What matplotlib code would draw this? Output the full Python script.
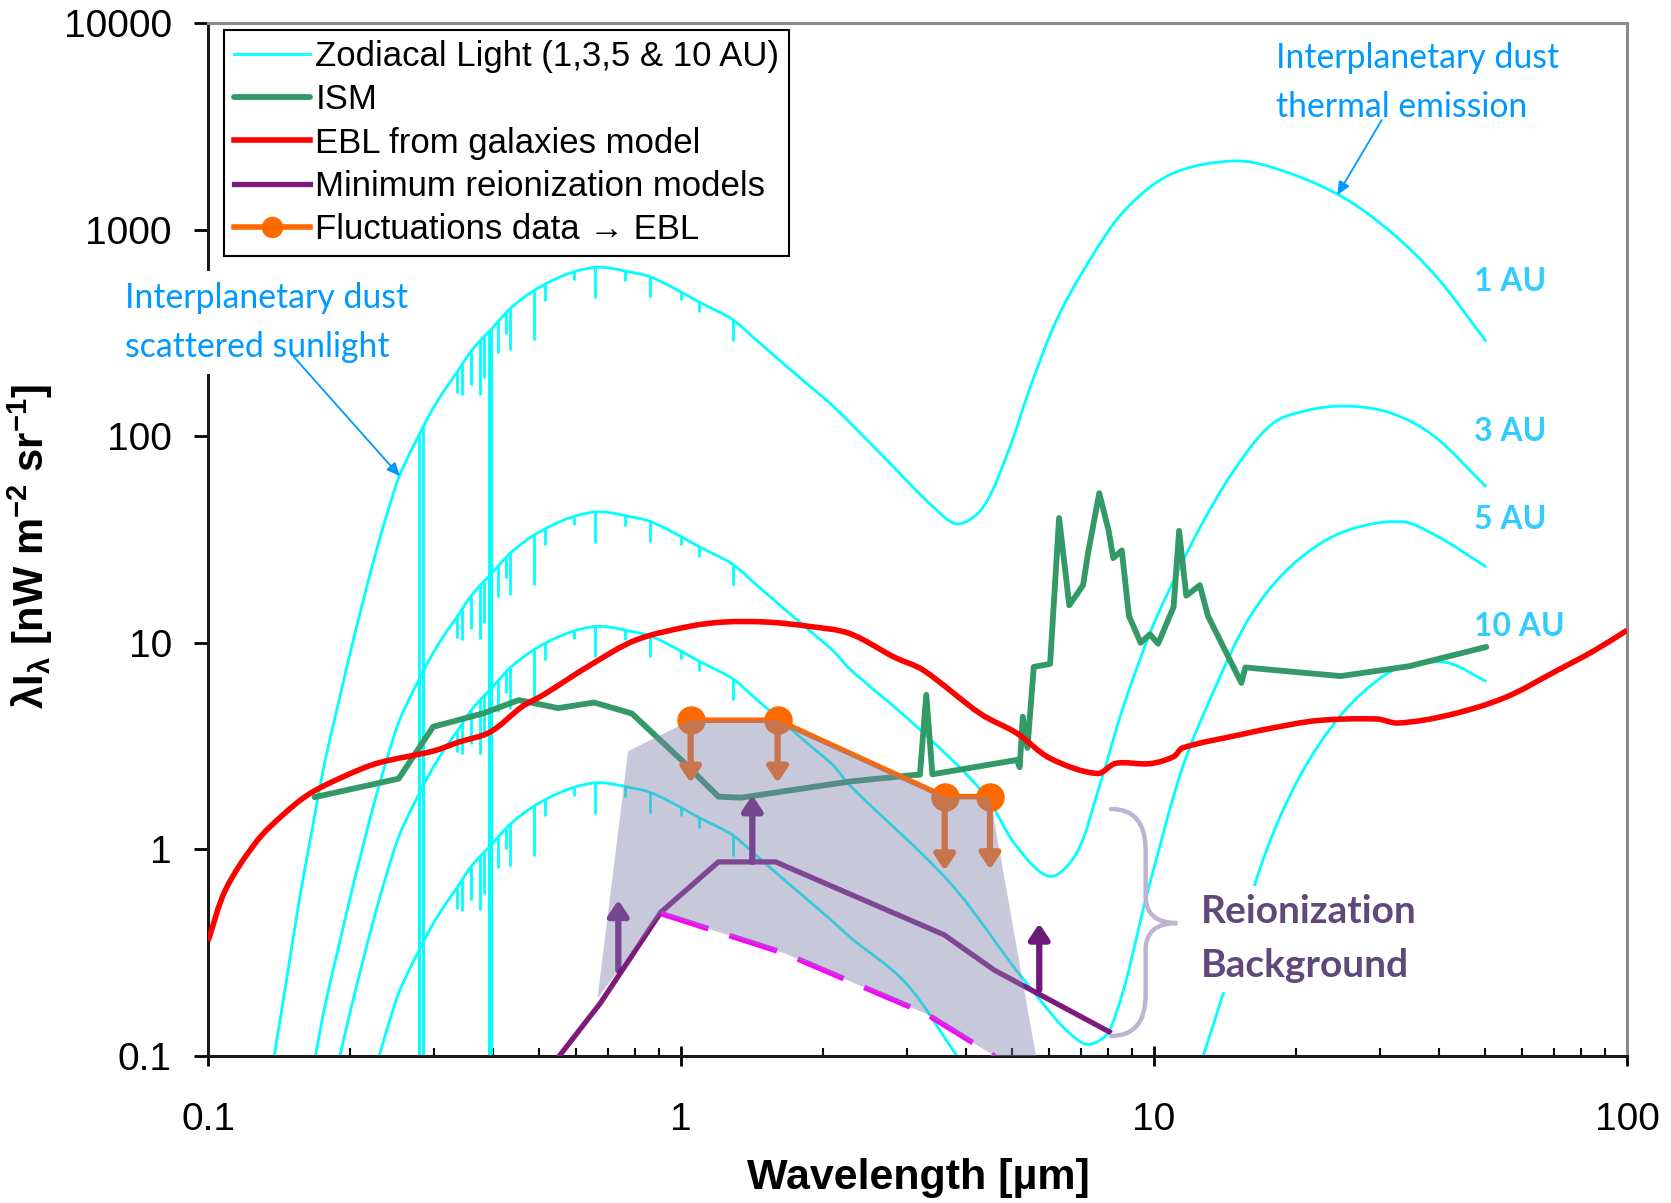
import numpy as np
import matplotlib
matplotlib.use("Agg")
import matplotlib.pyplot as plt
from matplotlib.path import Path
from matplotlib.patches import PathPatch, Polygon
from matplotlib.ticker import (FixedLocator, FixedFormatter, LogLocator,
                               NullLocator, NullFormatter)

plt.rcParams['font.family'] = ['Liberation Sans', 'DejaVu Sans']
plt.rcParams['mathtext.fontset'] = 'custom'
for k in ('rm', 'it', 'bf', 'sf'):
    plt.rcParams['mathtext.' + k] = 'Liberation Sans:bold'

# ---------------- data: wavelength [um], lambda*I_lambda [nW m^-2 sr^-1] ----
# scattered sunlight shape of the zodiacal light, relative to its peak
# sun_dip = depth of absorption line in dex
sun_wl = [0.138, 0.147, 0.156, 0.166, 0.177, 0.188, 0.199, 0.212, 0.226, 0.239,
          0.253, 0.268, 0.2796, 0.2853, 0.30, 0.32, 0.336, 0.345, 0.359, 0.376,
          0.383, 0.3934, 0.3968, 0.41, 0.426, 0.435, 0.46, 0.488, 0.517, 0.55,
          0.593, 0.625, 0.659, 0.70, 0.76, 0.86, 1.0, 1.09, 1.2, 1.29, 1.45,
          1.646, 1.85, 2.1]
sun_rel = [0.000152, 0.00037, 0.000866, 0.0019, 0.00414, 0.0075, 0.0131, 0.0235,
           0.0411, 0.064, 0.0959, 0.128, 0.155, 0.17, 0.21, 0.265, 0.31, 0.34,
           0.39, 0.44, 0.46, 0.49, 0.50, 0.545, 0.60, 0.63, 0.70, 0.77, 0.83,
           0.89, 0.95, 0.98, 1.0, 0.995, 0.96, 0.90, 0.76, 0.68, 0.61, 0.556,
           0.44, 0.342, 0.272, 0.212]
sun_dip = [0, 0, 0, 0, 0, 0, 0, 0, 0, 0,
           0, 0, 9, 9, 0, 0, 0.10, 0.15, 0.16, 0.26,
           0.20, 9, 9, 0.15, 0.10, 0.20, 0, 0.24, 0.08, 0,
           0.04, 0, 0.15, 0, 0.05, 0.10, 0.04, 0.05, 0, 0.10, 0,
           0, 0, 0]

zodi_peak = [657, 43, 12, 2.1]
zodi_names = ['1 AU', '3 AU', '5 AU', '10 AU']

# long-wavelength part of each zodiacal curve (scattered tail + thermal emission)
tail1_wl = [2.68, 3.41, 3.85, 4.36, 4.97, 5.42, 6.21, 7.25, 8.68, 10.9, 14.8,
            18.5, 24.8, 31.7, 39.6, 50.4]
tail1_v = [79.6, 45.6, 37.6, 45.6, 90, 162, 361, 689, 1243, 1860, 2150,
           1943, 1456, 973, 589, 287]
tail3_wl = [2.27, 3.15, 4.36, 5.13, 6.03, 6.86, 7.66, 8.61, 9.8, 10.6, 12.4,
            14.8, 17.8, 21, 25.4, 31.5, 38.9, 50.4]
tail3_v = [7.5, 3.93, 1.87, 1.03, 0.74, 0.96, 2.01, 4.9, 11.1, 16.7, 34.8,
           69, 115, 133, 140, 130, 101, 56.8]
tail5_wl = [2.27, 3.71, 5.38, 7.09, 8.07, 9.8, 11.5, 13.6, 15.96, 19.4, 24.8,
            33.2, 39.6, 50.4]
tail5_v = [2.05, 0.686, 0.225, 0.115, 0.134, 0.686, 2.51, 6.37, 13.4, 23.3, 34,
           38.6, 32.9, 23.3]
tail10_wl = [2.27, 2.99, 3.83, np.nan, 12.7, 14, 17, 20.3, 25, 30.8, 35, 41.8, 50.4]
tail10_v = [0.378, 0.225, 0.1, np.nan, 0.1, 0.2, 0.89, 2.24, 4.55, 7.0, 7.8, 8.0, 6.5]

ism_wl = [0.168, 0.253, 0.299, 0.381, 0.454, 0.55, 0.655, 0.787, 1.0, 1.2, 1.34,
          2.27, 3.1, 3.2, 3.3, 3.4, 5.13, 5.2, 5.28, 5.4, 5.57, 6.03, 6.3, 6.62,
          7.08, 7.25, 7.66, 8.02, 8.2, 8.55, 8.85, 9.37, 9.8, 10.2, 11.0, 11.3,
          11.7, 12.5, 13.0, 14.2, 15.3, 15.6, 17.7, 24.8, 34.6, 50.4]
ism_v = [1.79, 2.2, 3.92, 4.55, 5.28, 4.83, 5.14, 4.55, 2.72, 1.8, 1.78,
         2.13, 2.29, 2.3, 5.6, 2.31, 2.71, 2.5, 4.39, 3.1, 7.65, 7.9, 40.2, 15.2,
         19, 27, 53, 34.8, 25.7, 28, 13.5, 10, 11, 9.9, 14.9, 34.8,
         16.9, 19, 13.5, 9.0, 6.4, 7.6, 7.4, 6.9, 7.7, 9.55]

ebl_wl = [0.1, 0.109, 0.127, 0.145, 0.164, 0.195, 0.229, 0.299, 0.338, 0.395,
          0.461, 0.513, 0.643, 0.802, 1.04, 1.23, 1.52, 1.87, 2.27, 2.83, 3.25,
          4.3, 5.13, 6.03, 7.59, 8.3, 9.8, 11.0, 11.5, 15.2, 17.6, 22.1, 29.5,
          32.8, 42, 55.2, 70.8, 85.5, 100]
ebl_v = [0.36, 0.64, 1.1, 1.49, 1.86, 2.27, 2.62, 2.99, 3.3, 3.7,
         4.9, 5.62, 7.8, 10.3, 12.0, 12.6, 12.6, 12.0, 11.1, 8.5, 7.38,
         4.53, 3.65, 2.76, 2.33, 2.61, 2.6, 2.81, 3.1, 3.59, 3.85, 4.2, 4.28,
         4.09, 4.47, 5.43, 7.3, 9.2, 11.5]

reion_wl = [0.553, 0.675, 0.906, 1.2, 1.585, 3.6, 4.6, 8.04]
reion_v = [0.1, 0.18, 0.496, 0.87, 0.87, 0.386, 0.26, 0.131]
reion_arrow_wl = [0.737, 1.415, 5.72]
reion_arrow_from = [0.26, 0.87, 0.209]
reion_arrow_to = [0.569, 1.83, 0.438]

lowz_wl = [0.906, 1.65, 3.3, 4.6]
lowz_v = [0.49, 0.315, 0.16, 0.1]

fluct_wl = [1.048, 1.6, 3.61, 4.5]
fluct_v = [4.22, 4.22, 1.80, 1.80]
fluct_arrow_to = [2.1, 2.1, 0.79, 0.8]

shade_wl = [0.773, 1.048, 1.6, 3.61, 4.5, 5.63, 4.6, 3.3, 1.65, 0.906, 0.666]
shade_v = [2.99, 4.22, 4.22, 1.80, 1.80, 0.1, 0.1, 0.16, 0.315, 0.49, 0.19]

brace_wl = [8.11, 9.6, 11.2]     # ends, stem, tip
brace_v = [1.57, 0.44, 0.125]    # top, tip, bottom

note_tail = [(0.152, 241.5), (30.3, 3390)]
note_tip = [(0.2546, 64), (24.4, 1468)]

x_ticks = [0.1, 1, 10, 100]
x_tick_labels = ['0.1', '1', '10', '100']
y_ticks = [0.1, 1, 10, 100, 1000, 10000]
y_tick_labels = ['0.1', '1', '10', '100', '1000', '10000']

CYAN = '#00FFFF'
GREEN = '#339966'
RED = '#FF0000'
PURPLE = '#7D1A7D'
ORANGE = '#FF6A00'
MAGENTA = '#FF00FF'
BLUE = '#0099FF'
AU_BLUE = '#33CCFF'
CALIBRI = ['Lato', 'DejaVu Sans']


def smooth_path(xs, ys):
    """Smoothed (Excel-like) path through the points, built in log-log space."""
    lx = np.log10(np.asarray(xs, float))
    ly = np.log10(np.asarray(ys, float))
    verts, codes = [], []
    ok = np.isfinite(lx) & np.isfinite(ly)
    # split at NaN gaps
    idx = np.flatnonzero(ok)
    runs = np.split(idx, np.flatnonzero(np.diff(idx) > 1) + 1)
    for run in runs:
        if len(run) < 2:
            continue
        P = np.column_stack([lx[run], ly[run]])
        S = P * [1.0, 206.6 / 473.0]          # roughly isotropic on screen
        d = np.hypot(*np.diff(S, axis=0).T)
        n = len(P)
        m = np.zeros_like(P)
        for i in range(n):
            a = P[max(i - 1, 0)]
            b = P[min(i + 1, n - 1)]
            da = d[i - 1] if i > 0 else 0
            db = d[i] if i < n - 1 else 0
            m[i] = (b - a) / (da + db)
        verts.append(P[0])
        codes.append(Path.MOVETO)
        for i in range(n - 1):
            verts += [P[i] + m[i] * d[i] / 3, P[i + 1] - m[i + 1] * d[i] / 3, P[i + 1]]
            codes += [Path.CURVE4] * 3
    return Path(10 ** np.array(verts), codes)


# ---------------- figure ----------------
fig = plt.figure(figsize=(16.71, 12.03), dpi=100)
ax = fig.add_axes([0.12448, 0.12219, 0.84919, 0.85869])
ax.set_xscale('log')
ax.set_yscale('log')
ax.set_xlim(0.1, 100)
ax.set_ylim(0.1, 10000)

# zodiacal light curves
tails = [(tail1_wl, tail1_v), (tail3_wl, tail3_v), (tail5_wl, tail5_v),
         (tail10_wl, tail10_v)]
for peak, (twl, tv) in zip(zodi_peak, tails):
    sun_v = [peak * r for r in sun_rel]
    ax.add_patch(PathPatch(smooth_path(sun_wl + twl, sun_v + tv), fill=False,
                           edgecolor=CYAN, lw=2, zorder=2))
    dw = [w for w, d in zip(sun_wl, sun_dip) if d > 0]
    top = [s for s, d in zip(sun_v, sun_dip) if d > 0]
    bot = [s * 10 ** (-d) for s, d in zip(sun_v, sun_dip) if d > 0]
    ax.vlines(dw, bot, top, color=CYAN, lw=2, zorder=2)
zodi_line, = ax.plot([], [], color=CYAN, lw=2)

ism_line, = ax.plot(ism_wl, ism_v, color=GREEN, lw=4.2, zorder=3,
                    solid_joinstyle='round', solid_capstyle='round')
ax.add_patch(PathPatch(smooth_path(ebl_wl, ebl_v), fill=False, edgecolor=RED,
                       lw=4.0, zorder=3.5, joinstyle='round'))
ebl_line, = ax.plot([], [], color=RED, lw=4.0)
reion_line, = ax.plot(reion_wl, reion_v, color=PURPLE, lw=3.8, zorder=3)
ax.plot(lowz_wl, lowz_v, color=MAGENTA, lw=4, dashes=(9, 4), zorder=3)
fluct_line, = ax.plot(fluct_wl, fluct_v, '-o', color=ORANGE, lw=4, ms=19.5,
                      zorder=4)

arrow_style = '-|>,head_length=9,head_width=6'
for w, a, b in zip(fluct_wl, fluct_v, fluct_arrow_to):
    ax.annotate('', xy=(w, b), xytext=(w, a), zorder=4,
                arrowprops=dict(arrowstyle=arrow_style, mutation_scale=1,
                                color=ORANGE, lw=4.5, shrinkA=0, shrinkB=0))
for w, a, b in zip(reion_arrow_wl, reion_arrow_from, reion_arrow_to):
    ax.annotate('', xy=(w, b), xytext=(w, a), zorder=4,
                arrowprops=dict(arrowstyle=arrow_style, mutation_scale=1,
                                color='#6E1A78', lw=4.5, shrinkA=0, shrinkB=0))

ax.add_patch(Polygon(np.column_stack([shade_wl, shade_v]), closed=True,
                     facecolor='#8282AF', alpha=0.44, edgecolor='none', zorder=5))

# curly brace
bx0, bx1, bx2 = np.log10(brace_wl)
byt, bym, byb = np.log10(brace_v)
c1, c2 = 0.2, 0.13
bverts = [(bx0, byt), (bx1, byt), (bx1, byt - c1), (bx1, bym + c2),
          (bx1, bym), (bx2, bym), (bx1, bym), (bx1, bym - c2),
          (bx1, byb + c1), (bx1, byb), (bx0, byb)]
bcodes = [Path.MOVETO, Path.CURVE3, Path.CURVE3, Path.LINETO,
          Path.CURVE3, Path.CURVE3, Path.CURVE3, Path.CURVE3,
          Path.LINETO, Path.CURVE3, Path.CURVE3]
ax.add_patch(PathPatch(Path(10 ** np.array(bverts), bcodes), fill=False,
                       edgecolor='#BFB3D5', lw=3.2, capstyle='round', zorder=4))

# annotations
ax.text(-0.0587, 0.710, 'Interplanetary dust\nscattered sunlight',
        transform=ax.transAxes, ha='left', va='center', fontsize=24.3,
        family=CALIBRI, color=BLUE, linespacing=1.65, zorder=6,
        bbox=dict(facecolor='white', edgecolor='none', pad=8))
ax.text(0.7529, 0.9424, 'Interplanetary dust\nthermal emission',
        transform=ax.transAxes, ha='left', va='center', fontsize=24.3,
        family=CALIBRI, color=BLUE, linespacing=1.65, zorder=6)
for tail, tip in zip(note_tail, note_tip):
    ax.annotate('', xy=tip, xytext=tail, zorder=6,
                arrowprops=dict(arrowstyle='-|>,head_length=8,head_width=3.5',
                                mutation_scale=1, color=BLUE, lw=1.3,
                                shrinkA=0, shrinkB=0))
for name, yy in zip(zodi_names, [0.7493, 0.605, 0.5189, 0.4153]):
    ax.text(0.8922, yy, name, transform=ax.transAxes, ha='left', va='center',
            fontsize=23, family=CALIBRI, fontweight='bold', color=AU_BLUE,
            zorder=6)
ax.text(0.6998, 0.1137, 'Reionization\nBackground', transform=ax.transAxes,
        ha='left', va='center', fontsize=28, family=CALIBRI, fontweight='bold',
        color='#5F497A', linespacing=1.68, zorder=6,
        bbox=dict(facecolor='white', edgecolor='none', pad=6))

# axes styling
ax.xaxis.set_major_locator(FixedLocator(x_ticks))
ax.xaxis.set_major_formatter(FixedFormatter(x_tick_labels))
ax.xaxis.set_minor_locator(LogLocator(base=10, subs=np.arange(2, 10)))
ax.xaxis.set_minor_formatter(NullFormatter())
ax.yaxis.set_major_locator(FixedLocator(y_ticks))
ax.yaxis.set_major_formatter(FixedFormatter(y_tick_labels))
ax.yaxis.set_minor_locator(NullLocator())
ax.tick_params(axis='x', which='major', direction='inout', length=14.4, width=2,
               labelsize=28, pad=26, top=False)
ax.tick_params(axis='x', which='minor', direction='in', length=6, width=1.5,
               top=False)
ax.tick_params(axis='y', which='major', direction='out', length=10, width=2,
               labelsize=28, pad=16, right=False)
for s in ('left', 'bottom'):
    ax.spines[s].set_color('#1a1a1a')
    ax.spines[s].set_linewidth(2.2)
for s in ('top', 'right'):
    ax.spines[s].set_color('#8a8a8a')
    ax.spines[s].set_linewidth(2.2)

ax.set_xlabel('Wavelength [\u00b5m]', fontsize=31, fontweight='bold', va='top')
ax.xaxis.set_label_coords(0.5004, -0.0987)
ax.set_ylabel('$\\lambda$I$_{\\lambda}$ [nW m$^{\\mathrm{-}2}$ sr$^{\\mathrm{-}1}$]',
              fontsize=30, fontweight='bold')
ax.yaxis.set_label_coords(-0.1078, 0.493)

leg = ax.legend([zodi_line, ism_line, ebl_line, reion_line, fluct_line],
                ['Zodiacal Light (1,3,5 & 10 AU)', 'ISM', 'EBL from galaxies model',
                 'Minimum reionization models', 'Fluctuations data \u2192 EBL'],
                loc='upper left', bbox_to_anchor=(0.0113, 0.9932), borderaxespad=0,
                fontsize=25, frameon=True, fancybox=False, edgecolor='black',
                framealpha=1, borderpad=0.28, handlelength=2.2,
                handletextpad=0.15, labelspacing=0.3, markerscale=0.74)
leg.get_frame().set_linewidth(1.5)
leg.set_zorder(10)

fig.savefig('out.png', dpi=100, facecolor='white')
